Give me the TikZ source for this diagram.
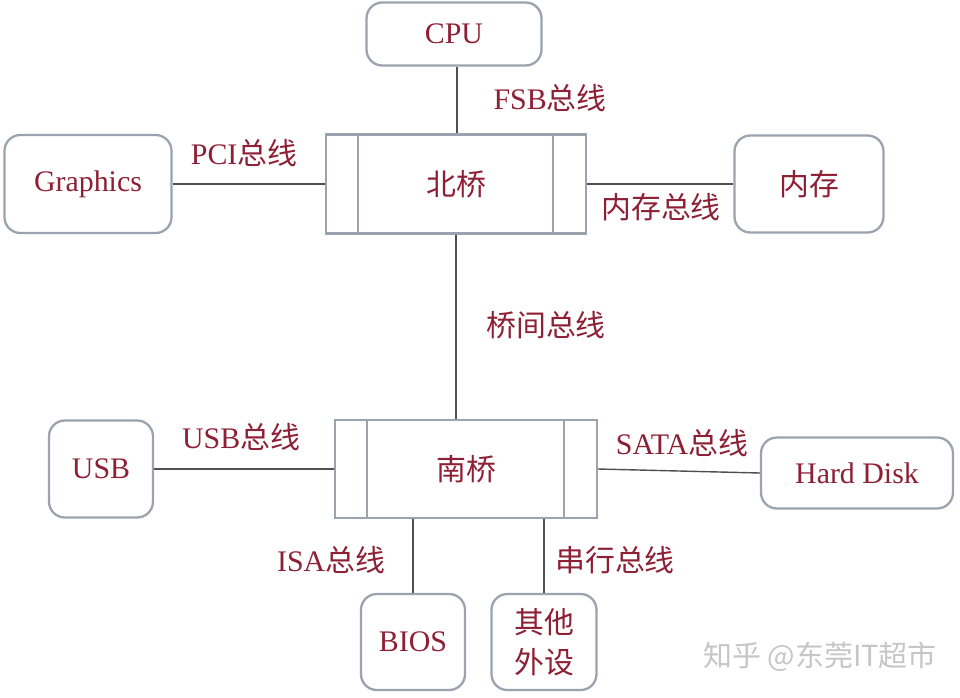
\documentclass[tikz,border=0pt]{standalone}
\usepackage{fontspec}
\setmainfont{Liberation Serif}
\newfontfamily\cjk{Noto Sans CJK SC}
\usetikzlibrary{calc}
\definecolor{txtred}{HTML}{8E2035}
\definecolor{boxgray}{HTML}{9AA3AE}
\definecolor{wiregray}{HTML}{505050}
\tikzset{
 part/.style={draw=boxgray,line width=1.3pt,rounded corners=9pt,fill=white,text=txtred,
   font=\fontsize{17}{23}\selectfont,inner sep=0pt,align=center},
 bridge/.style={draw=boxgray,line width=1.3pt,fill=white,text=txtred,
   font=\fontsize{17}{20}\selectfont\cjk,inner sep=0pt},
 bus/.style={text=txtred,font=\fontsize{17}{20}\selectfont,inner sep=0pt},
 wire/.style={draw=wiregray,line width=0.8pt}
}
\begin{document}
\begin{tikzpicture}[x=0.02cm,y=-0.02cm]
 \useasboundingbox[fill=white] (0,0) rectangle (960,697);
 % boxes
 \node[part,minimum width=3.5cm,minimum height=1.26cm] (cpu) at (454,34) {CPU};
 \node[bridge,minimum width=5.2cm,minimum height=1.98cm] (nb) at (456,184) {北桥};
 \node[part,minimum width=3.34cm,minimum height=1.96cm] (gfx) at (88,184) {Graphics};
 \node[part,minimum width=2.98cm,minimum height=1.94cm] (mem) at (809,184) {\cjk 内存};
 \node[bridge,minimum width=5.24cm,minimum height=1.96cm] (sb) at (466,469) {南桥};
 \node[part,minimum width=2.08cm,minimum height=1.94cm] (usb) at (101,469) {USB};
 \node[part,minimum width=3.84cm,minimum height=1.42cm] (hd) at (857,473) {Hard Disk};
 \node[part,minimum width=2.08cm,minimum height=1.92cm] (bios) at (413,642) {BIOS};
 \node[part,minimum width=2.1cm,minimum height=1.92cm] (oth) at (544,642) {\cjk 其他\\\cjk 外设};
 \foreach \b in {nb,sb}{
  \draw[boxgray,line width=1.3pt] ($(\b.north west)+(33,0)$) -- ($(\b.south west)+(33,0)$);
  \draw[boxgray,line width=1.3pt] ($(\b.north east)+(-34,0)$) -- ($(\b.south east)+(-34,0)$);
 }
 % buses
 \draw[wire] ($(cpu.south)+(3,0)$) -- ($(cpu.south |- nb.north)+(3,0)$);
 \draw[wire] (gfx.east) -- (gfx.east -| nb.west);
 \draw[wire] (nb.east) -- (nb.east -| mem.west);
 \draw[wire] (nb.south) -- (nb.south |- sb.north);
 \draw[wire] (usb.east) -- (usb.east -| sb.west);
 \draw[wire] (sb.east) -- (hd.west);
 \draw[wire] (bios.north) -- (bios.north |- sb.south);
 \draw[wire] (oth.north) -- (oth.north |- sb.south);
 \node[bus] (fsb) at (550,98) {FSB\cjk 总线};
 \node[bus] (pci) at (244,153) {PCI\cjk 总线};
 \node[bus] (membus) at (661,207) {\cjk 内存总线};
 \node[bus] (qiao) at (546,325) {\cjk 桥间总线};
 \node[bus] (usbbus) at (241,437) {USB\cjk 总线};
 \node[bus] (sata) at (682,443) {SATA\cjk 总线};
 \node[bus] (isa) at (331,560) {ISA\cjk 总线};
 \node[bus] (serial) at (615,560) {\cjk 串行总线};
 \node[text=gray!45,font=\fontsize{16.5}{18}\selectfont\cjk] (mark) at (820,657) {知乎 @东莞IT超市};
\end{tikzpicture}
\end{document}
